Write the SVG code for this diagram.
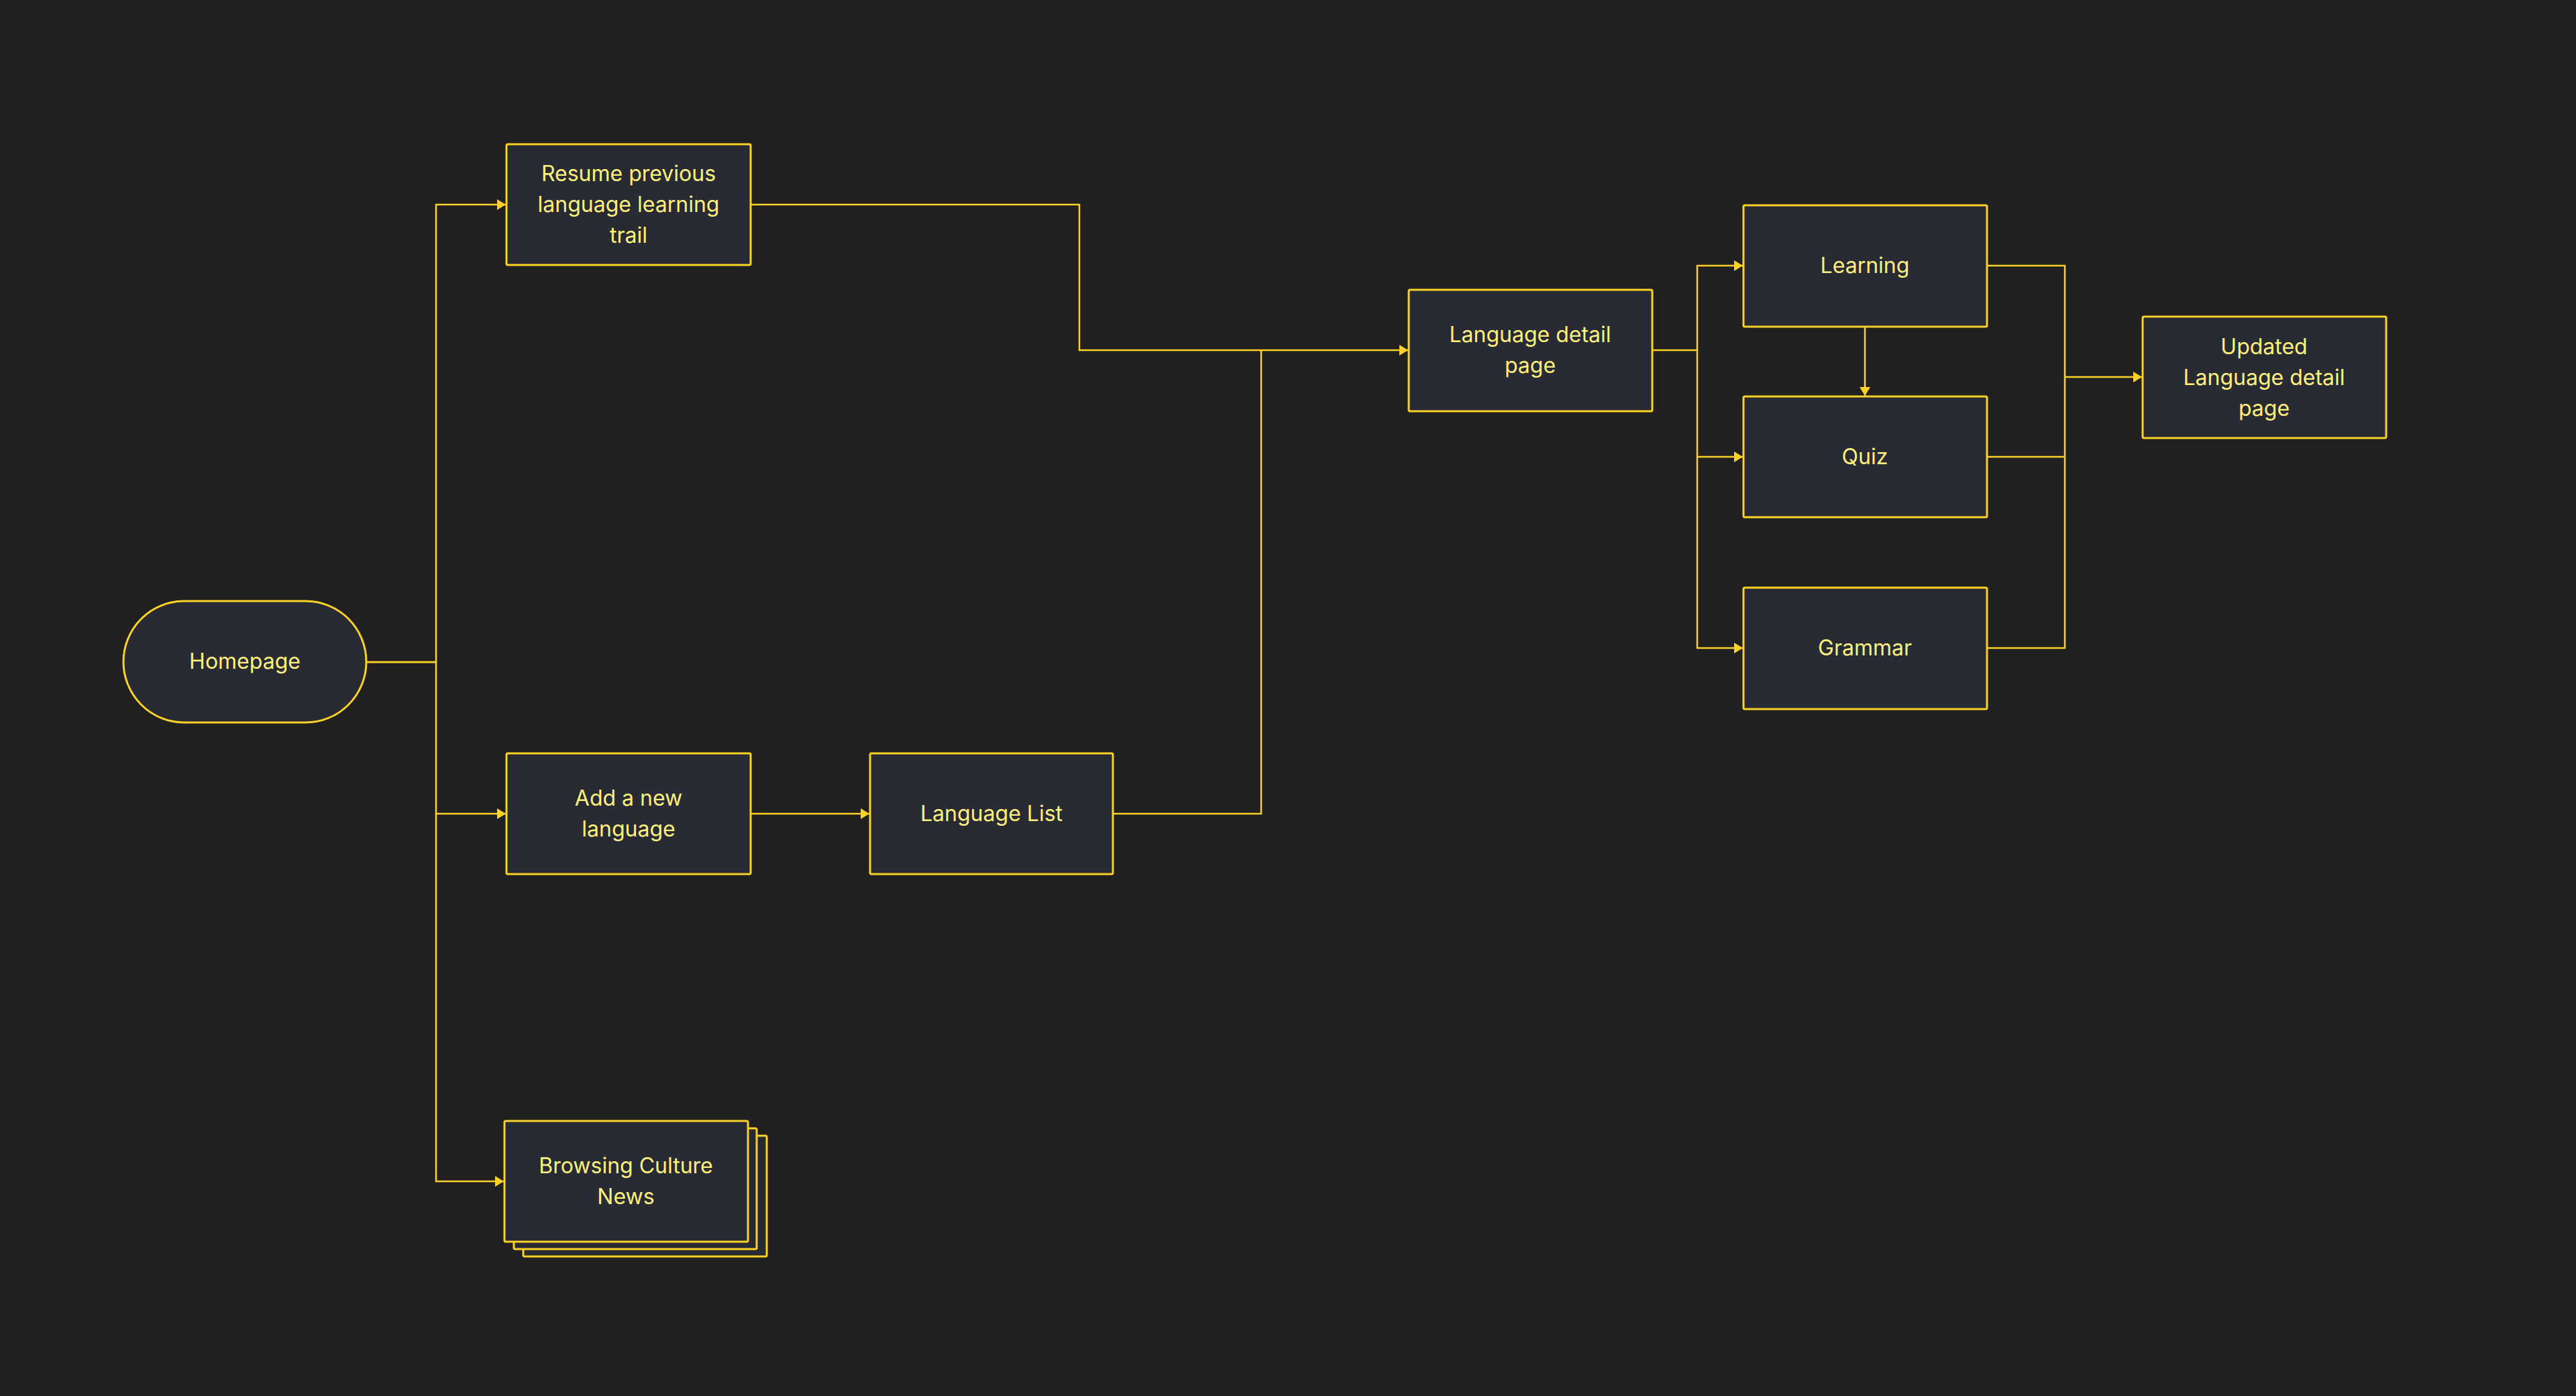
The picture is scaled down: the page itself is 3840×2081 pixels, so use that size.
<svg xmlns="http://www.w3.org/2000/svg" width="3840" height="2081" viewBox="0 0 3840 2081">
<style>
.box{fill:#282b34;stroke:#fcd226;stroke-width:3}
.lbl{font-family:Inter,"Noto Sans","Liberation Sans",sans-serif;font-size:32px;fill:#fdf07c;text-anchor:middle}
.con{fill:none;stroke:#fcd226;stroke-width:2.5}
</style>
<defs>
<marker id="arr" markerUnits="userSpaceOnUse" markerWidth="14" markerHeight="18" refX="13" refY="8" orient="auto">
<path d="M0,0 L13,8 L0,16 z" fill="#fcd226"/>
</marker>
</defs>
<rect width="3840" height="2081" fill="#202020"/>
<g id="connectors">
<path class="con" d="M546,987 H650 V305 H754" marker-end="url(#arr)"/>
<path class="con" d="M546,987 H650 V1213 H754" marker-end="url(#arr)"/>
<path class="con" d="M650,1213 V1761 H751" marker-end="url(#arr)"/>
<path class="con" d="M1119,305 H1609 V522 H2099" marker-end="url(#arr)"/>
<path class="con" d="M1119,1213 H1296" marker-end="url(#arr)"/>
<path class="con" d="M1659,1213 H1880 V522"/>
<path class="con" d="M2463,522 H2530 V396 H2598" marker-end="url(#arr)"/>
<path class="con" d="M2530,522 V681 H2598" marker-end="url(#arr)"/>
<path class="con" d="M2530,681 V966 H2598" marker-end="url(#arr)"/>
<path class="con" d="M2780,487 V590" marker-end="url(#arr)"/>
<path class="con" d="M2962,396 H3078 V562 H3193" marker-end="url(#arr)"/>
<path class="con" d="M2962,681 H3078"/>
<path class="con" d="M2962,966 H3078 V562"/>
</g>
<g id="homepage">
<rect class="box" x="184" y="896" width="362" height="181" rx="90.5"/>
<text class="lbl" x="365" y="997">Homepage</text>
</g>
<g id="resume">
<rect class="box" x="755" y="215" width="364" height="180" rx="2"/>
<text class="lbl" x="937" y="270">Resume previous</text>
<text class="lbl" x="937" y="316">language learning</text>
<text class="lbl" x="937" y="362">trail</text>
</g>
<g id="add-language">
<rect class="box" x="755" y="1123" width="364" height="180" rx="2"/>
<text class="lbl" x="937" y="1201">Add a new</text>
<text class="lbl" x="937" y="1247">language</text>
</g>
<g id="language-list">
<rect class="box" x="1297" y="1123" width="362" height="180" rx="2"/>
<text class="lbl" x="1478" y="1224">Language List</text>
</g>
<g id="browsing-news">
<rect class="box" x="780" y="1693" width="363" height="180" rx="2"/>
<rect class="box" x="766" y="1682" width="362" height="180" rx="2"/>
<rect class="box" x="752" y="1671" width="363" height="180" rx="2"/>
<text class="lbl" x="933" y="1749">Browsing Culture</text>
<text class="lbl" x="933" y="1795">News</text>
</g>
<g id="language-detail">
<rect class="box" x="2100" y="432" width="363" height="181" rx="2"/>
<text class="lbl" x="2281" y="510">Language detail</text>
<text class="lbl" x="2281" y="556">page</text>
</g>
<g id="learning">
<rect class="box" x="2599" y="306" width="363" height="181" rx="2"/>
<text class="lbl" x="2780" y="407">Learning</text>
</g>
<g id="quiz">
<rect class="box" x="2599" y="591" width="363" height="180" rx="2"/>
<text class="lbl" x="2780" y="692">Quiz</text>
</g>
<g id="grammar">
<rect class="box" x="2599" y="876" width="363" height="181" rx="2"/>
<text class="lbl" x="2780" y="977">Grammar</text>
</g>
<g id="updated-detail">
<rect class="box" x="3194" y="472" width="363" height="181" rx="2"/>
<text class="lbl" x="3375" y="528">Updated</text>
<text class="lbl" x="3375" y="574">Language detail</text>
<text class="lbl" x="3375" y="620">page</text>
</g>
</svg>
